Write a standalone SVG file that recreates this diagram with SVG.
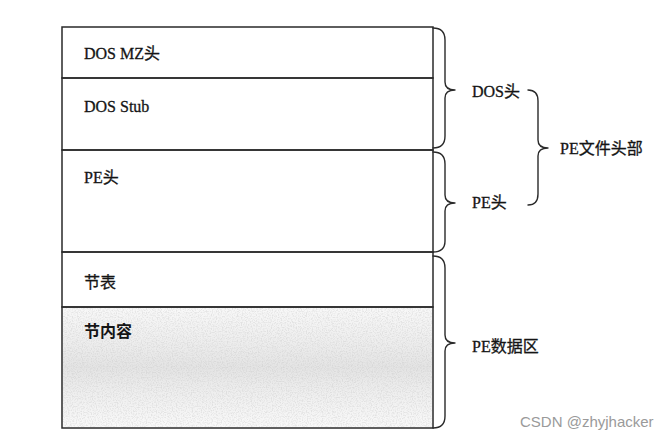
<svg xmlns="http://www.w3.org/2000/svg" width="669" height="440" viewBox="0 0 669 440">
  <style>
    .cell { fill: none; stroke: #2a2a2a; stroke-width: 1.5; }
    .lbl { font-family: "Liberation Serif", "Noto Sans CJK SC", serif; font-size: 16px; fill: #151515; stroke: #151515; stroke-width: 0.3; }
    .bold { font-weight: bold; stroke-width: 0; }
    .brace { fill: none; stroke: #2a2a2a; stroke-width: 1.4; stroke-linejoin: round; stroke-linecap: round; }
    .wm { font-family: "Liberation Sans", "DejaVu Sans", sans-serif; font-size: 15px; fill: #9a9a9a; }
  </style>
  <defs>
    <linearGradient id="band" x1="0" y1="0" x2="0" y2="1">
      <stop offset="0" stop-color="#f8f8f8"/>
      <stop offset="0.3" stop-color="#ededed"/>
      <stop offset="0.5" stop-color="#e4e4e4"/>
      <stop offset="0.7" stop-color="#eeeeee"/>
      <stop offset="1" stop-color="#f9f9f9"/>
    </linearGradient>
    <filter id="speckle" x="0" y="0" width="100%" height="100%">
      <feTurbulence type="fractalNoise" baseFrequency="0.8" numOctaves="2" seed="7" result="n"/>
      <feColorMatrix in="n" type="matrix" values="0 0 0 0 0.5  0 0 0 0 0.5  0 0 0 0 0.5  0 0 0 -3 1.75" result="g"/>
      <feComposite in="g" in2="SourceGraphic" operator="in"/>
    </filter>
  </defs>
  <rect width="669" height="440" fill="#ffffff"/>

  <g id="node-dos-mz">
    <rect class="cell" x="62" y="27" width="371" height="51" fill="#ffffff"/>
    <text class="lbl" x="84" y="59">DOS MZ头</text>
  </g>
  <g id="node-dos-stub">
    <rect class="cell" x="62" y="78" width="371" height="72"/>
    <text class="lbl" x="84" y="112">DOS Stub</text>
  </g>
  <g id="node-pe-header">
    <rect class="cell" x="62" y="150" width="371" height="102"/>
    <text class="lbl" x="84" y="183">PE头</text>
  </g>
  <g id="node-section-table">
    <rect class="cell" x="62" y="252" width="371" height="55"/>
    <text class="lbl" x="84" y="288">节表</text>
  </g>
  <g id="node-section-content">
    <rect x="63" y="308" width="369" height="119" fill="url(#band)"/>
    <rect x="63" y="308" width="369" height="119" fill="#000000" opacity="0.3" filter="url(#speckle)"/>
    <rect class="cell" x="62" y="307" width="371" height="121"/>
    <text class="lbl bold" x="84" y="337">节内容</text>
  </g>

  <g id="connectors">
    <path class="brace" d="M433,28 Q445,28 445,40 L445,82 Q445,90 455,90 Q445,90 445,98 L445,136 Q445,148 433,148"/>
    <path class="brace" d="M433,152 Q445,152 445,164 L445,195 Q445,203 455,203 Q445,203 445,211 L445,241 Q445,252 433,252"/>
    <path class="brace" d="M433,256 Q445,256 445,268 L445,335 Q445,343 455,343 Q445,343 445,351 L445,416 Q445,428 433,428"/>
    <path class="brace" d="M528,90 Q538,90 538,101 L538,140 Q538,148 548,148 Q538,148 538,156 L538,194 Q538,205 528,205"/>
  </g>

  <g id="label-dos-header">
    <text class="lbl" x="472" y="97">DOS头</text>
  </g>
  <g id="label-pe-header">
    <text class="lbl" x="472" y="208">PE头</text>
  </g>
  <g id="label-pe-file-header">
    <text class="lbl" x="560" y="154">PE文件头部</text>
  </g>
  <g id="label-pe-data">
    <text class="lbl" x="472" y="352">PE数据区</text>
  </g>

  <text class="wm" x="520" y="427">CSDN @zhyjhacker</text>
</svg>
